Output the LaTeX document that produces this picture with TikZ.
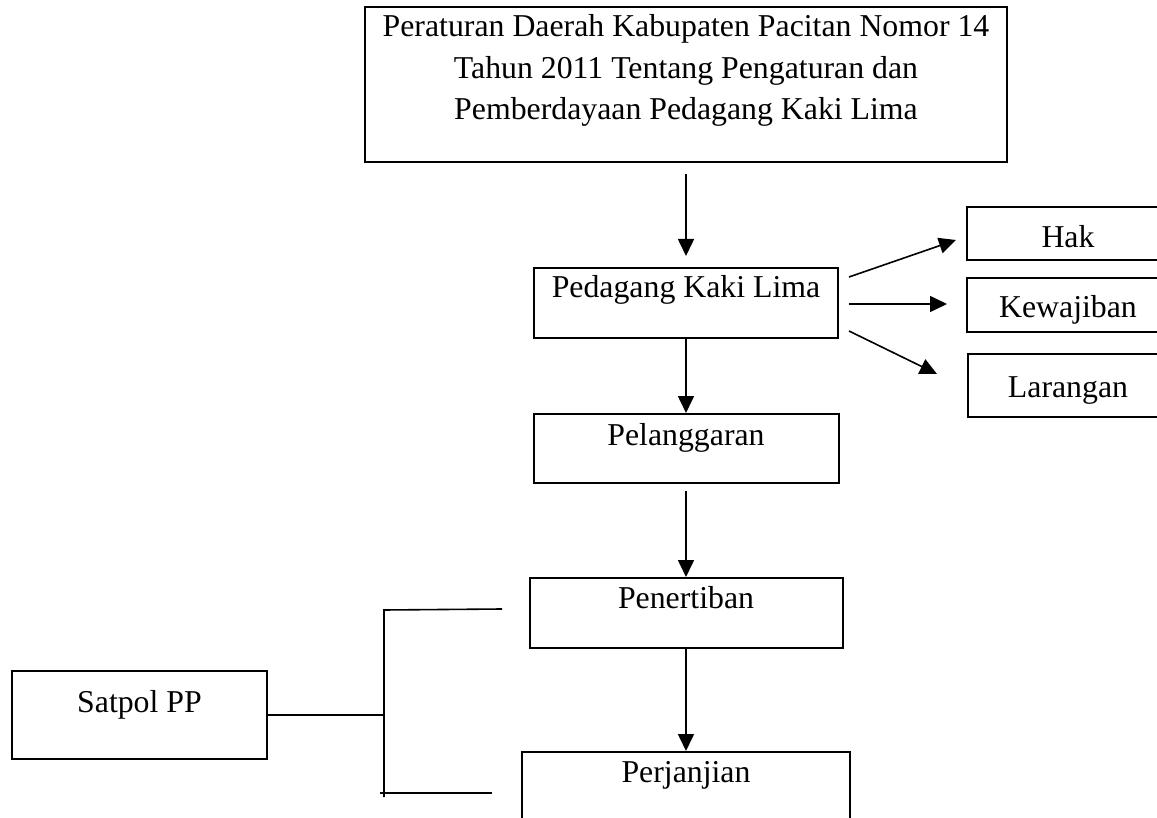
\documentclass[tikz,border=0pt]{standalone}
\usepackage{fontspec}
\setmainfont{Liberation Serif}
\usetikzlibrary{arrows.meta}

\begin{document}
\begin{tikzpicture}[
  x=1pt, y=-1pt,
  every node/.style={font=\fontsize{31.8}{41.5}\selectfont},
  kotak/.style={
    draw,
    line width=2pt,
    inner sep=0pt,
    align=center
  },
  panah/.style={-{Triangle[length=17pt,width=16pt]}, line width=1.6pt},
  garis/.style={line width=1.6pt},
]

% Page frame.
\useasboundingbox (0,0) rectangle (1157,818);
\clip (0,0) rectangle (1157,818);

% Main column.
\node[kotak, minimum width=642pt, text height=113pt, text depth=42pt] (perda) at (686,84.5)
  {Peraturan Daerah Kabupaten Pacitan Nomor 14\\Tahun 2011 Tentang Pengaturan dan\\Pemberdayaan Pedagang Kaki Lima};
\node[kotak, minimum width=304pt, text height=29.5pt, text depth=40.5pt] (pkl) at (686,303) {Pedagang Kaki Lima};
\node[kotak, minimum width=305pt, text height=31pt, text depth=38pt] (langgar) at (686,448.5) {Pelanggaran};
\node[kotak, minimum width=313pt, text height=30pt, text depth=40pt] (tertib) at (686,613) {Penertiban};
\node[kotak, minimum width=328pt, text height=30pt, text depth=40pt] (janji) at (686,787) {Perjanjian};

% Side boxes.
\node[kotak, minimum width=255pt, text height=41pt, text depth=47pt] (satpol) at (139.5,715) {Satpol PP};
\node[kotak, minimum width=202pt, text height=41pt, text depth=12pt] (hak) at (1068,233.5) {Hak};
\node[kotak, minimum width=202pt, text height=40pt, text depth=14pt] (wajib) at (1068,305) {Kewajiban};
\node[kotak, minimum width=200pt, text height=43pt, text depth=20pt] (larang) at (1068,385.5) {Larangan};

\draw[panah, shorten <=11pt, shorten >=11pt] (perda.south) -- (perda.south |- pkl.north);
\draw[panah] (pkl.south) -- (pkl.south |- langgar.north);
\draw[panah, shorten <=7pt] (langgar.south) -- (langgar.south |- tertib.north);
\draw[panah] (tertib.south) -- (tertib.south |- janji.north);

\draw[panah] ([xshift=10pt,yshift=-10pt]pkl.north east) -- ([xshift=-10pt,yshift=-6.5pt]hak.west);
\draw[panah] ([xshift=10pt,yshift=-1pt]pkl.east) -- ([xshift=-19pt,yshift=1pt]wajib.west);
\draw[panah] ([xshift=10pt,yshift=8pt]pkl.south east) -- ([xshift=-30pt,yshift=11.5pt]larang.west);

% Satpol PP bracket.
\coordinate (pojokatas) at (384,610);
\coordinate (pojokbawah) at (384,797);
\coordinate (simpul) at (satpol.east -| pojokatas);
\coordinate (awalbawah) at (380,793);
\coordinate (ujungatas) at (502,609);
\coordinate (ujungbawah) at (492,793);

\draw[garis] (satpol.east) -- (simpul);
\draw[garis] (ujungatas) -- (pojokatas) -- (pojokbawah);
\draw[garis] (awalbawah) -- (ujungbawah);

\end{tikzpicture}
\end{document}
